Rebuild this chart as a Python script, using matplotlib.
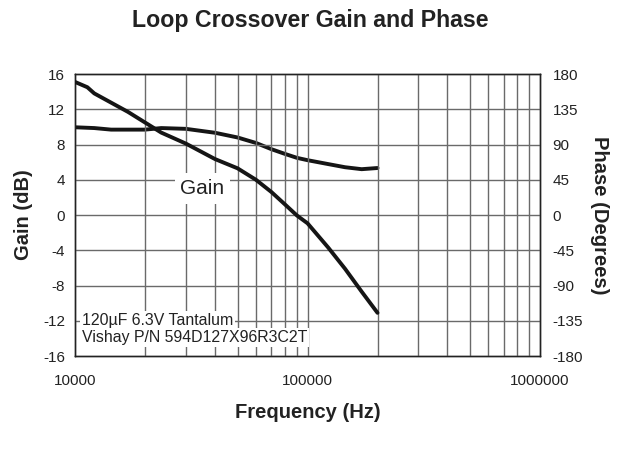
import matplotlib.pyplot as plt
import numpy as np

plt.rcParams["font.family"] = ["Liberation Sans", "DejaVu Sans"]

# ------------------------------------------------------------
# data
# ------------------------------------------------------------
gain_freq = [10000, 11300, 12100, 14300, 16900, 20000, 23500, 30000, 40000,
             50000, 60000, 70000, 80000, 90000, 100000, 122800, 145000,
             171000, 200000]
gain_db = [15.1, 14.5, 13.8, 12.75, 11.7, 10.5, 9.35, 8.1, 6.35,
           5.3, 4.0, 2.6, 1.2, -0.05, -0.94, -3.7, -6.1, -8.7, -11.1]

phase_freq = [10000, 12100, 14300, 16900, 20000, 23500, 30000, 40000, 50000,
              60000, 70000, 80000, 90000, 100000, 122800, 145000, 171000,
              200000]
phase_deg = [112, 111, 109, 109, 109, 111, 110, 105, 99,
             92, 84, 78, 73, 70, 65, 61, 58.5, 60]

gain_ticks = [-16, -12, -8, -4, 0, 4, 8, 12, 16]
phase_ticks = [-180, -135, -90, -45, 0, 45, 90, 135, 180]
freq_ticks = [10000, 100000, 1000000]

# ------------------------------------------------------------
# figure
# ------------------------------------------------------------
fig = plt.figure(figsize=(6.23, 4.58), dpi=100)
ax = fig.add_axes([0.1204, 0.2227, 0.7464, 0.6157])
ax2 = ax.twinx()

ax.set_xscale("log")
ax.set_xlim(1e4, 1e6)
ax.set_ylim(-16, 16)
ax2.set_ylim(-180, 180)

# grid on every minor decade line
minor = [m * d for d in (1e4, 1e5) for m in range(2, 10)]
for f in minor + [1e5]:
    ax.axvline(f, color="#6a6a6a", lw=1.0, zorder=1)
for g in gain_ticks[1:-1]:
    ax.axhline(g, color="#6a6a6a", lw=1.0, zorder=1)

ax.plot(gain_freq, gain_db, color="#151515", lw=2.8, zorder=3,
        solid_capstyle="round")
ax2.plot(phase_freq, phase_deg, color="#151515", lw=2.8, zorder=3,
         solid_capstyle="round")

ax.set_xticks(freq_ticks)
ax.set_xticklabels(["10000", "100000", "1000000"])
ax.xaxis.set_minor_locator(plt.NullLocator())
ax.set_yticks(gain_ticks)
ax.set_yticklabels([str(v) for v in gain_ticks])
ax2.set_yticks(phase_ticks)
ax2.set_yticklabels([str(v) for v in phase_ticks])

ax.tick_params(axis="both", length=0, labelsize=11, colors="#222222")
ax.tick_params(axis="x", pad=13)
ax.tick_params(axis="y", pad=7)
ax2.tick_params(axis="y", length=0, labelsize=11, colors="#222222", pad=9)

for a in (ax, ax2):
    for s in a.spines.values():
        s.set_color("#222222")
        s.set_linewidth(1.0)

ax.set_xlabel("Frequency (Hz)", fontsize=14.5, fontweight="bold",
              color="#222222", va="center")
ax.xaxis.set_label_coords(0.5, -0.202)
ax.set_ylabel("Gain (dB)", fontsize=14.5, fontweight="bold", color="#222222",
              va="center")
ax.yaxis.set_label_coords(-0.11, 0.5)
ax2.set_ylabel("Phase (Degrees)", fontsize=14.5, fontweight="bold",
               rotation=-90, color="#222222", va="center")
ax2.yaxis.set_label_coords(1.127, 0.5)

fig.text(0.498, 0.956, "Loop Crossover Gain and Phase", fontsize=16.7,
         fontweight="bold", ha="center", va="center", color="#222222")

box = dict(facecolor="white", edgecolor="none", pad=1.5)
ax.text(35300, 3.0, "Gain", fontsize=15, ha="center", va="center",
        color="#222222", bbox=dict(facecolor="white", edgecolor="none", pad=4),
        zorder=2)
ax.text(10700, -12.0, "120\u00b5F 6.3V Tantalum", fontsize=11.4, ha="left",
        va="center", color="#222222", bbox=box, zorder=2)
ax.text(10700, -13.95, "Vishay P/N 594D127X96R3C2T", fontsize=11.4, ha="left",
        va="center", color="#222222", bbox=box, zorder=2)

ax.set_zorder(ax2.get_zorder() + 1)
ax.patch.set_visible(False)

fig.savefig("out.png", dpi=100)
